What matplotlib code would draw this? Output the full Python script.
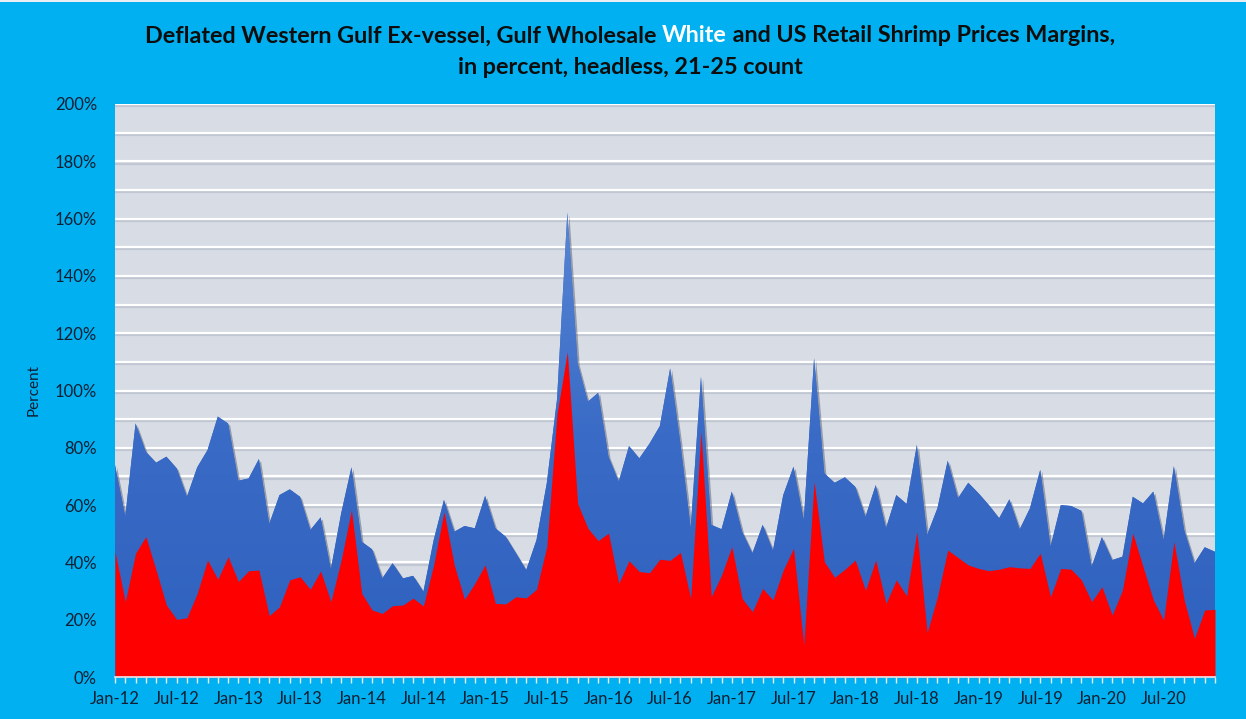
import numpy as np
import pandas as pd
import matplotlib
matplotlib.use("Agg")
import matplotlib.pyplot as plt
from matplotlib.colors import LinearSegmentedColormap
from matplotlib import patheffects as pe
from matplotlib.patches import Rectangle

# ---------------- data ----------------
months = pd.date_range("2012-01-01", "2020-12-01", freq="MS")
month_labels = [d.strftime("%b-%y") for d in months]

total_margin = [
    74.0, 56.0, 88.5, 78.6, 74.8, 76.9, 72.8, 62.9, 73.2, 79.2, 90.9, 88.5,
    68.5, 69.3, 76.1, 53.4, 63.5, 65.5, 62.9, 51.3, 55.7, 37.6, 57.1, 73.2,
    47.2, 44.6, 34.4, 39.7, 34.4, 35.3, 29.8, 47.8, 61.8, 50.7, 52.7, 51.9,
    63.2, 51.9, 49.0, 43.2, 37.3, 47.8, 67.6, 97.0, 162.1, 109.5, 96.1, 99.2,
    76.9, 68.2, 80.6, 76.3, 81.5, 87.6, 107.7, 81.5, 51.9, 104.8, 53.1, 51.6,
    64.7, 50.7, 43.2, 53.1, 44.1, 63.5, 73.4, 54.8, 111.2, 71.1, 67.8, 69.7,
    66.4, 55.9, 67.0, 51.9, 63.5, 60.4, 81.0, 49.6, 58.9, 75.5, 62.4, 67.8,
    64.1, 60.0, 55.4, 62.0, 51.5, 58.9, 72.3, 45.5, 60.0, 59.7, 58.0, 38.5,
    48.8, 40.8, 42.0, 62.9, 60.6, 64.7, 47.8, 73.6, 51.3, 39.7, 45.3, 43.7,
]

lower_margin = [
    43.7, 26.3, 43.2, 49.0, 37.3, 25.1, 20.1, 20.7, 29.2, 40.8, 34.1, 42.0,
    33.3, 37.1, 37.3, 21.4, 24.5, 33.9, 35.0, 30.6, 37.0, 26.3, 40.8, 58.3,
    29.2, 23.4, 22.2, 24.9, 25.1, 27.5, 24.8, 39.2, 57.7, 39.1, 27.1, 32.7,
    39.1, 25.7, 25.5, 28.0, 27.6, 30.6, 45.5, 92.0, 113.5, 60.6, 51.9, 47.6,
    50.2, 32.7, 40.6, 36.8, 36.4, 41.1, 40.7, 43.5, 27.4, 85.6, 28.0, 35.6,
    45.5, 27.4, 22.8, 30.9, 26.9, 37.3, 44.9, 11.2, 68.2, 40.2, 34.8, 37.6,
    40.8, 30.3, 40.8, 25.7, 33.9, 28.3, 50.7, 15.5, 28.0, 44.3, 41.7, 39.1,
    37.9, 37.1, 37.6, 38.5, 38.1, 37.9, 43.2, 28.0, 37.9, 37.6, 33.9, 26.3,
    31.5, 21.6, 30.4, 50.2, 38.5, 26.9, 19.9, 47.2, 26.9, 13.5, 23.4, 23.6,
]

y_ticks = list(range(0, 201, 20))
y_tick_labels = [f"{v}%" for v in y_ticks]

# ---------------- style ----------------
FONT = "Lato"
BG = "#00B0F0"
PLOT_BG = "#D7DCE5"
BLUE = "#3B6BC6"
RED = "#FF0000"
TXT = "#0F1F33"

plt.rcParams["font.family"] = [FONT, "DejaVu Sans"]

fig = plt.figure(figsize=(12.46, 7.19), dpi=100, facecolor=BG)
ax = fig.add_axes([115 / 1246, 1 - 677 / 719, 1100 / 1246, (677 - 104) / 719])
ax.set_facecolor(PLOT_BG)

x = np.arange(len(months))

# gridlines every 10% with soft shadow
for g in range(10, 201, 10):
    ax.axhline(g, color="white", lw=1.6, zorder=1,
               path_effects=[pe.SimpleLineShadow(offset=(0, -1.6), shadow_color="#9aa2b0", alpha=0.35),
                             pe.Normal()])

# blue (total) area with gradient + shadow
blue_poly = ax.fill_between(x, 0, total_margin, color=BLUE, lw=0, zorder=2,
                            path_effects=[pe.SimplePatchShadow(offset=(1.5, -1.5), shadow_rgbFace="#4a5060", alpha=0.45),
                                          pe.Normal()])
cmap = LinearSegmentedColormap.from_list("bl", ["#2E60BE", "#3A6BC6", "#5A88D6"])
grad = np.linspace(0, 1, 256).reshape(-1, 1)
im = ax.imshow(grad, extent=[x[0], x[-1], 0, 170], origin="lower", aspect="auto",
               cmap=cmap, zorder=2.1, interpolation="bilinear")
im.set_clip_path(blue_poly.get_paths()[0], transform=ax.transData)

# red area
ax.fill_between(x, 0, lower_margin, color=RED, lw=0, zorder=3)

ax.set_xlim(x[0], x[-1])
ax.set_ylim(0, 200)

# axes styling
for s in ["left", "right", "top"]:
    ax.spines[s].set_visible(False)
ax.spines["bottom"].set_color("#E6EEF5")
ax.spines["bottom"].set_linewidth(1.2)
ax.spines["bottom"].set_zorder(5)

ax.set_yticks(y_ticks)
ax.set_yticklabels(y_tick_labels)
ax.tick_params(axis="y", length=0, pad=13, labelsize=12, labelcolor=TXT)

major = [i for i, d in enumerate(months) if d.month in (1, 7)]
ax.set_xticks(major)
ax.set_xticklabels([month_labels[i] for i in major])
ax.set_xticks(x, minor=True)
ax.tick_params(axis="x", which="both", direction="out", length=4, width=1,
               color="#E6EEF5", labelsize=12, labelcolor=TXT, pad=6)

ax.set_ylabel("Percent", fontsize=11, color=TXT)
ax.yaxis.set_label_coords(-0.068, 0.5)

# thin light strip at top of the figure
fig.patches.append(Rectangle((0, 1 - 2 / 719), 1, 2 / 719, transform=fig.transFigure,
                             facecolor="#E8EEF2", edgecolor="none"))

# ---------------- title with coloured word ----------------
line1 = ["Deflated Western Gulf Ex-vessel, Gulf Wholesale ", "White",
         " and US Retail Shrimp Prices Margins,"]
colors1 = ["#0D0D0D", "white", "#0D0D0D"]
line2 = "in percent, headless, 21-25 count"

renderer = fig.canvas.get_renderer()
probe = fig.text(0, 0, "".join(line1), fontsize=16, fontweight="bold")
w = probe.get_window_extent(renderer).width
probe.remove()
fs = 16 * 976 / w

W = 1246.0
H = 719.0
cx = 630
y1 = 1 - 36 / H
pieces = []
widths = []
for t, c in zip(line1, colors1):
    tt = fig.text(0, y1, t, fontsize=fs, fontweight="bold", color=c, va="center", ha="left")
    pieces.append(tt)
    widths.append(tt.get_window_extent(renderer).width)
total_w = sum(widths)
start = cx - total_w / 2
for tt, ww in zip(pieces, widths):
    tt.set_x(start / W)
    start += ww

fig.text(cx / W, 1 - 67 / H, line2, fontsize=fs, fontweight="bold", color="#0D0D0D",
         va="center", ha="center")

fig.savefig("out.png", dpi=100, facecolor=BG)
